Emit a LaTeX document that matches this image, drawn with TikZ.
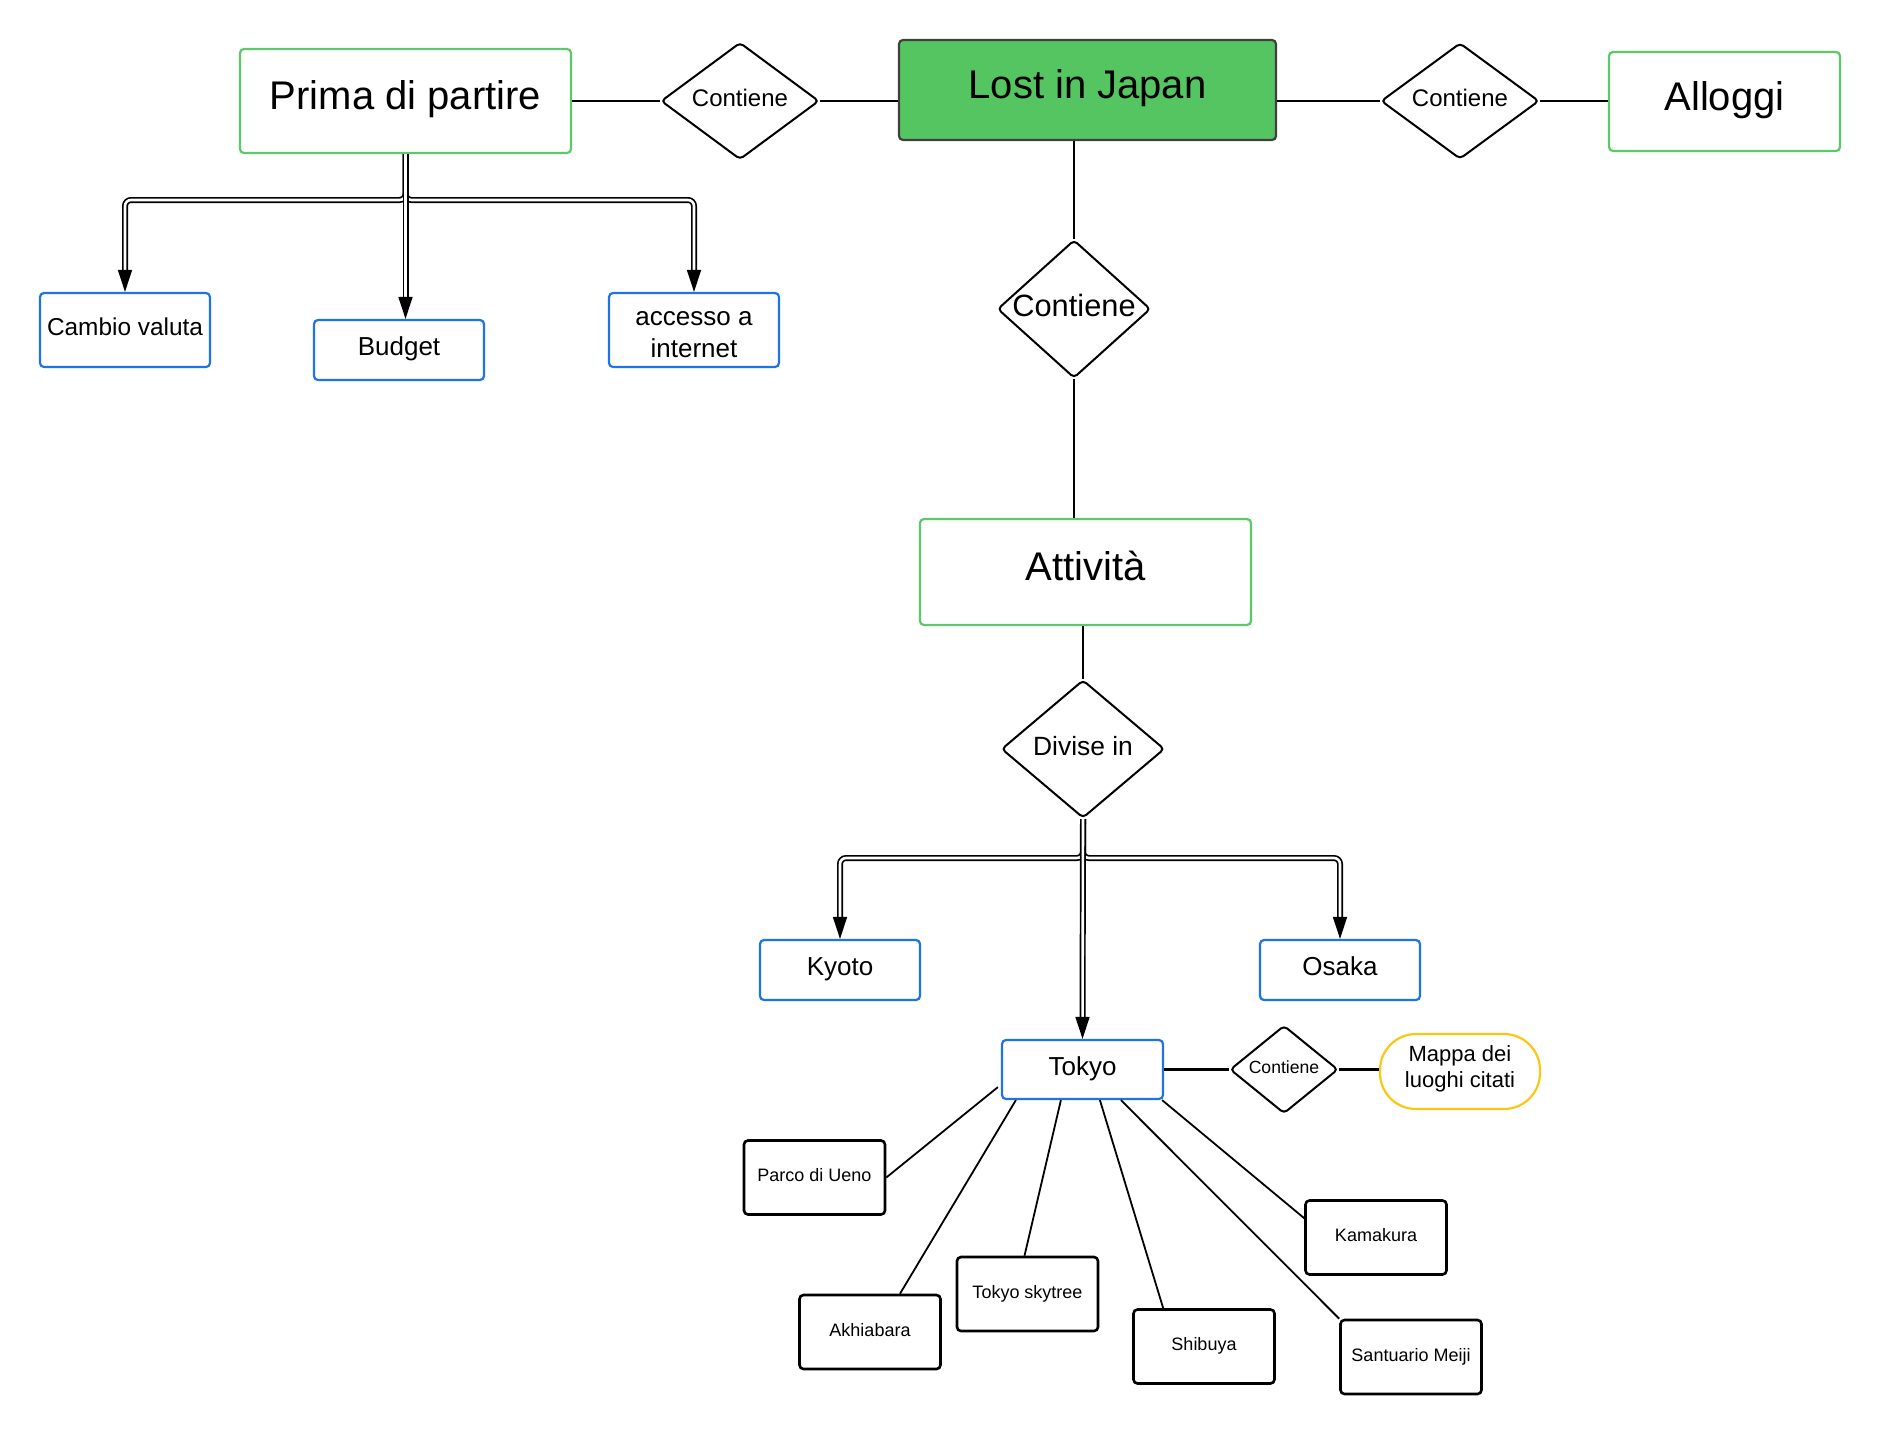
\documentclass[tikz,border=0pt]{standalone}
\usepackage{fontspec}
\setmainfont{Liberation Sans}
\usetikzlibrary{shapes.geometric,arrows.meta,calc}
\definecolor{lgreen}{RGB}{92,201,104}
\definecolor{lfill}{RGB}{84,197,96}
\definecolor{lblue}{RGB}{30,115,232}
\definecolor{lyellow}{RGB}{250,200,20}
\definecolor{ldark}{RGB}{64,64,64}
\begin{document}
\begin{tikzpicture}[x=0.5pt,y=-0.5pt,
 gbox/.style={draw=lgreen, line width=1.1pt, rounded corners=2pt, inner sep=0pt, align=center, font=\fontsize{20}{24}\selectfont, text height=14.6pt, text depth=6pt},
 bbox/.style={draw=lblue, line width=1.1pt, rounded corners=2pt, inner sep=0pt, align=center, font=\fontsize{13}{16}\selectfont},
 bline/.style={text height=9.5pt, text depth=3.8pt},
 kbox/.style={draw=black, line width=1.3pt, rounded corners=2pt, inner sep=0pt, align=center, font=\fontsize{9}{11}\selectfont, minimum width=70.5pt, minimum height=37pt, text height=6.6pt, text depth=2.6pt},
 rel/.style={diamond, draw, line width=1pt, rounded corners=2pt, inner sep=0pt},
 conn/.style={line width=1.15pt},
 thin conn/.style={line width=0.9pt},
 dbl/.style={double, double distance=1.3pt, line width=0.85pt, rounded corners=3pt, shorten >=10pt},
 arrowtip/.style={line width=0.85pt, -{Triangle[length=11pt,width=7pt]}},
]
\useasboundingbox[fill=white] (0,0) rectangle (1880,1435);

% main nodes
\node[gbox, minimum width=165.5pt, minimum height=52pt] (prima) at (405.5,101) {Prima di partire};
\node[rel, aspect=1.35, minimum width=79pt, minimum height=58.5pt, font=\fontsize{12}{14}\selectfont, text height=8.8pt, text depth=3.2pt] (c1) at (740,101) {Contiene};
\node[draw=ldark, fill=lfill, line width=1.1pt, rounded corners=2pt, inner sep=0pt, minimum width=188.5pt, minimum height=50pt, font=\fontsize{20}{24}\selectfont, text height=14.6pt, text depth=6.3pt] (lost) at (1087.5,90) {Lost in Japan};
\node[rel, aspect=1.36, minimum width=79pt, minimum height=58pt, font=\fontsize{12}{14}\selectfont, text height=8.8pt, text depth=3.2pt] (c2) at (1460,101) {Contiene};
\node[gbox, minimum width=115.5pt, minimum height=49.5pt] (alloggi) at (1724.5,101.5) {Alloggi};
\node[rel, aspect=1.11, minimum width=76.5pt, minimum height=69pt, font=\fontsize{15.4}{18}\selectfont, text height=11.2pt, text depth=4.1pt, inner sep=-1pt] (c3) at (1074,309) {Contiene};
\node[gbox, minimum width=165.5pt, minimum height=53pt] (attivita) at (1085.5,572) {Attività};
\node[rel, aspect=1.18, minimum width=81.5pt, minimum height=69pt, font=\fontsize{13.2}{16}\selectfont, text height=9.6pt, text depth=3.6pt] (divise) at (1083,749) {Divise in};

% left children
\node[bbox, bline, minimum width=85pt, minimum height=37pt, font=\fontsize{12.2}{15}\selectfont] (cambio) at (125,330) {Cambio valuta};
\node[bbox, bline, minimum width=85pt, minimum height=30pt] (budget) at (399,350) {Budget};
\node[bbox, minimum width=85pt, minimum height=37pt] (accesso) at (694,330) {\strut accesso a\\internet};

% cities
\node[bbox, bline, minimum width=80pt, minimum height=30pt] (kyoto) at (840,970) {Kyoto};
\node[bbox, bline, minimum width=80pt, minimum height=30pt] (osaka) at (1340,970) {Osaka};
\node[bbox, bline, minimum width=80.5pt, minimum height=29.5pt] (tokyo) at (1082.5,1069.5) {Tokyo};
\node[rel, aspect=1.23, minimum width=54pt, minimum height=44pt, font=\fontsize{8.8}{10}\selectfont, text height=6.4pt, text depth=2.4pt] (c4) at (1284,1069.5) {Contiene};
\node[draw=lyellow, line width=1.1pt, rounded corners=18pt, minimum width=80pt, minimum height=37.5pt, align=center, inner sep=0pt, font=\fontsize{11}{13}\selectfont] (mappa) at (1460,1071.5) {Mappa dei\\luoghi citati\rule[-4.7pt]{0pt}{4.7pt}};

% Tokyo places
\node[kbox] (parco) at (814.5,1177.5) {Parco di Ueno};
\node[kbox] (akh) at (870,1332) {Akhiabara};
\node[kbox] (skytree) at (1027.5,1294) {Tokyo skytree};
\node[kbox] (shibuya) at (1204,1346.5) {Shibuya};
\node[kbox] (meiji) at (1411,1357) {Santuario Meiji};
\node[kbox] (kamakura) at (1376,1237.5) {Kamakura};

% single connectors
\draw[conn] (prima.east) -- (c1.west);
\draw[conn] (c1.east) -- (c1.east -| lost.west);
\draw[conn] (c2.west -| lost.east) -- (c2.west);
\draw[conn] (c2.east) -- (c2.east -| alloggi.west);
\draw[conn] (c3.north) -- (c3.north |- lost.south);
\draw[conn] (c3.south) -- (c3.south |- attivita.north);
\draw[conn] (divise.north |- attivita.south) -- (divise.north);
\draw[conn] (tokyo.east) -- (c4.west);
\draw[conn] (c4.east) -- (c4.east -| mappa.west);

% double arrows from Prima di partire
\coordinate (pj) at (405.5,200);
\coordinate (bt) at (prima.south |- budget.north);
\draw[dbl] (prima.south) -- (prima.south |- pj) -| (cambio.north);
\draw[dbl] (prima.south) -- (prima.south |- pj) -| (accesso.north);
\draw[dbl] (prima.south) -- (bt);
\draw[arrowtip] ([yshift=11pt]cambio.north) -- (cambio.north);
\draw[arrowtip] ([yshift=11pt]accesso.north) -- (accesso.north);
\draw[arrowtip] ([yshift=11pt]bt) -- (bt);

% double arrows from Divise in
\coordinate (dj) at (1083,858);
\draw[dbl] (divise.south) -- (divise.south |- dj) -| (kyoto.north);
\draw[dbl] (divise.south) -- (divise.south |- dj) -| (osaka.north);
\draw[dbl] (divise.south) -- (tokyo.north);
\draw[arrowtip] ([yshift=11pt]kyoto.north) -- (kyoto.north);
\draw[arrowtip] ([yshift=11pt]osaka.north) -- (osaka.north);
\draw[arrowtip] ([yshift=11pt]tokyo.north) -- (tokyo.north);

% Tokyo to places
\draw[thin conn] (parco.east) -- ($(tokyo.south west)+(-3,-13)$);
\draw[thin conn] ($(akh.north)+(30,0)$) -- ($(tokyo.south west)+(15,0)$);
\draw[thin conn] ($(skytree.north)+(-3,0)$) -- ($(tokyo.south west)+(60,0)$);
\draw[thin conn] ($(shibuya.north west)+(31,0)$) -- ($(tokyo.south west)+(99,0)$);
\draw[thin conn] (meiji.north west) -- ($(tokyo.south west)+(120,0)$);
\draw[thin conn] ($(kamakura.north west)+(0,19)$) -- ($(tokyo.south east)+(-2,0)$);
\end{tikzpicture}
\end{document}
